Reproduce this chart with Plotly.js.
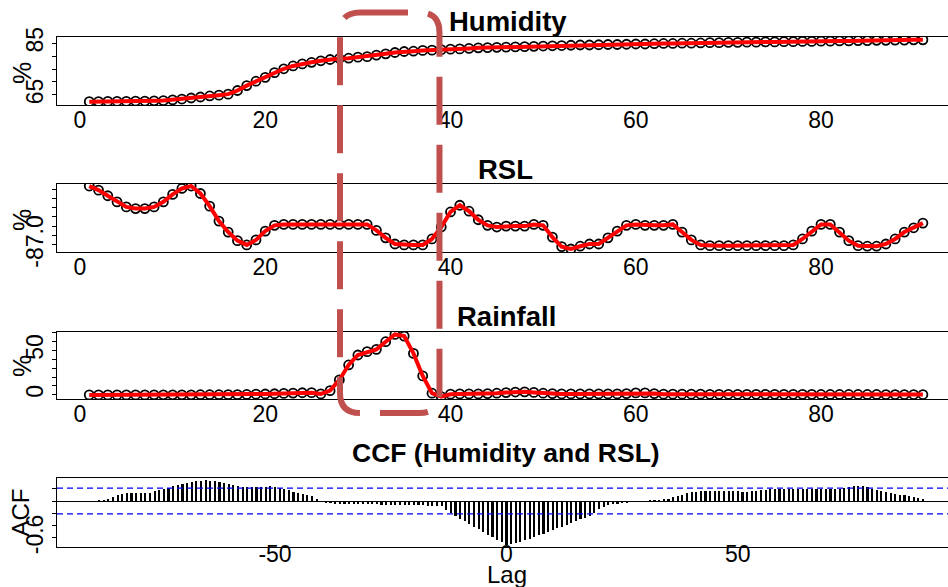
<!DOCTYPE html>
<html>
<head>
<meta charset="utf-8">
<script src="https://cdn.plot.ly/plotly-3.0.1.min.js"></script>
<style>html,body{margin:0;padding:0;background:#fff;overflow:hidden}#chart{width:948px;height:587px}</style>
</head>
<body>
<div id="chart"></div>
<script>
// ---------- data ----------
const humidity = [62.4,62.4,62.5,62.5,62.5,62.6,62.6,62.7,62.8,63.1,63.4,63.8,64.2,64.6,64.9,65.3,66.7,68.6,70.3,71.8,
73.6,75.1,76.2,77.0,77.6,78.2,78.7,79.1,79.2,79.6,79.8,80.4,80.9,81.4,81.8,81.9,82.2,82.3,82.5,82.7,
82.8,83.0,83.2,83.3,83.4,83.5,83.6,83.7,83.8,83.9,84.0,84.1,84.2,84.3,84.3,84.4,84.5,84.5,84.6,84.7,
84.7,84.8,84.9,84.9,85.0,85.0,85.1,85.2,85.2,85.3,85.3,85.4,85.4,85.5,85.5,85.6,85.6,85.7,85.7,85.8,
85.8,85.9,85.9,86.0,86.0,86.1,86.1,86.2,86.2,86.3,86.3];

const rsl = [-83.84,-84.06,-84.36,-84.69,-84.96,-85.05,-85.05,-84.96,-84.69,-84.29,-83.97,-83.84,-84.24,-84.92,-85.72,-86.31,-86.77,-87.00,-86.73,-86.26,
-85.95,-85.90,-85.90,-85.90,-85.90,-85.90,-85.90,-85.90,-85.90,-85.90,-85.90,-86.22,-86.62,-86.95,-87.00,-87.00,-87.00,-86.68,-86.04,-85.23,
-84.87,-85.19,-85.65,-85.95,-86.04,-85.99,-85.99,-85.99,-85.90,-85.95,-86.58,-87.09,-87.22,-87.07,-86.95,-86.95,-86.62,-86.26,-85.95,-85.90,
-85.95,-85.95,-85.95,-85.90,-86.31,-86.73,-87.00,-87.04,-87.04,-87.04,-87.04,-87.04,-87.04,-87.04,-87.04,-87.04,-87.00,-86.68,-86.26,-85.90,
-85.90,-86.31,-86.77,-87.04,-87.07,-87.07,-86.95,-86.68,-86.31,-86.08,-85.83];

const rainfall = [0.0,0.0,0.0,0.0,0.0,0.0,0.0,0.1,0.1,0.1,0.1,0.1,0.2,0.2,0.2,0.3,0.3,0.5,0.8,1.0,
1.3,1.7,2.0,2.4,2.5,1.1,4.8,16.8,33.6,44.8,48.5,51.1,59.7,67.9,66.0,46.6,21.3,1.9,-1.9,0.8,
1.1,1.1,1.1,1.5,1.9,2.6,3.2,3.4,2.8,1.9,1.5,1.1,1.1,1.1,1.1,1.1,1.1,1.1,1.5,2.2,
2.2,1.5,0.8,0.8,0.8,0.8,0.8,0.7,0.7,0.7,0.7,0.7,0.7,0.6,0.6,0.6,0.6,0.6,0.6,0.5,
0.5,0.5,0.5,0.5,0.5,0.5,0.4,0.4,0.4,0.4,0.4];

const ccfValues = [
0.005,0.008,0.012,0.020,0.035,0.065,0.090,0.110,0.125,0.130,   // lag -90 .. -81
0.130,0.130,0.130,0.136,0.157,0.173,0.200,0.217,0.244,0.266,   // -80 .. -71
0.282,0.298,0.309,0.320,0.331,0.336,0.331,0.325,0.309,0.293,   // -70 .. -61
0.282,0.266,0.244,0.233,0.233,0.233,0.233,0.233,0.233,0.238,   // -60 .. -51
0.228,0.211,0.200,0.173,0.146,0.130,0.114,0.103,0.076,0.038,   // -50 .. -41
-0.005,-0.030,-0.040,-0.045,-0.050,-0.050,-0.050,-0.050,-0.050,-0.055, // -40 .. -31
-0.055,-0.055,-0.055,-0.058,-0.060,-0.060,-0.062,-0.065,-0.065,-0.068, // -30 .. -21
-0.070,-0.070,-0.072,-0.075,-0.078,-0.080,-0.085,-0.140,-0.200,-0.245, // -20 .. -11
-0.290,-0.330,-0.375,-0.420,-0.460,-0.505,-0.550,-0.590,-0.635,-0.670, // -10 .. -1
-0.710,                                                           // 0
-0.705,-0.690,-0.665,-0.640,-0.610,-0.585,-0.555,-0.530,-0.500,-0.470, // 1 .. 10
-0.445,-0.415,-0.385,-0.355,-0.330,-0.300,-0.270,-0.240,-0.200,-0.130, // 11 .. 20
-0.090,-0.070,-0.055,-0.045,-0.035,-0.028,-0.020,-0.012,-0.005,0.005,  // 21 .. 30
0.012,0.018,0.022,0.028,0.040,0.060,0.080,0.100,0.125,0.140,   // 31 .. 40
0.150,0.155,0.160,0.160,0.160,0.160,0.160,0.155,0.155,0.155,   // 41 .. 50
0.150,0.150,0.155,0.165,0.175,0.185,0.190,0.190,0.188,0.190,   // 51 .. 60
0.190,0.192,0.190,0.188,0.190,0.190,0.192,0.190,0.190,0.192,   // 61 .. 70
0.192,0.195,0.205,0.225,0.240,0.245,0.240,0.225,0.200,0.180,   // 71 .. 80
0.160,0.145,0.130,0.120,0.105,0.090,0.075,0.060,0.045,0.030    // 81 .. 90
];

const timeTicks = [0,20,40,60,80];
const lagTicks = [-50,0,50];
const lagTickText = ['-50','0','50'];
const humTicks = [65,70,75,80,85];
const humTickText = ['65','','','','85'];
const rslTicks = [-87,-86.5,-86,-85.5,-85,-84.5,-84];
const rslTickText = ['-87.0','','','','','',''];
const rainTicks = [0,10,20,30,40,50,60,70];
const rainTickText = ['0','','','','','50','',''];
const ccfTicks = [-0.6,-0.4,-0.2,0,0.2];
const ccfTickText = ['-0.6','','','',''];
const ciLevel = 0.21;           // 2/sqrt(n) confidence band
const highlightStart = 28.07;   // highlighted rainfall event (time index)
const highlightEnd = 38.81;

const timeIdx = humidity.map((_, i) => i + 1);
const lags = ccfValues.map((_, i) => i - 90);

// ---------- traces ----------
const FONT = 'Liberation Sans, Arial, Helvetica, sans-serif';
function series(vals, xa, ya) {
  return [
    {type:'scatter', mode:'markers', x:timeIdx, y:vals, xaxis:xa, yaxis:ya,
     marker:{symbol:'circle-open', size:9, color:'#000', line:{width:1.8, color:'#000'}}, hoverinfo:'skip'},
    {type:'scatter', mode:'lines', x:timeIdx, y:vals, xaxis:xa, yaxis:ya,
     line:{color:'#ff0000', width:4}, hoverinfo:'skip'}
  ];
}
const data = [
  ...series(humidity, 'x', 'y'),
  ...series(rsl, 'x2', 'y2'),
  ...series(rainfall, 'x3', 'y3'),
  {type:'bar', x:lags, y:ccfValues, xaxis:'x4', yaxis:'y4', width:0.46,
   marker:{color:'#000', line:{width:0}}, hoverinfo:'skip'}
];

// ---------- layout ----------
const H = 587, W = 948;
const py = p => 1 - p / H;
const xd = [57 / W, 1];
function xaxisDef(range, ticks, text, anchor, standoff) {
  return {domain:xd, range:range, anchor:anchor, tickvals:ticks, ticktext:text, ticks:'',
    ticklabelstandoff:standoff,
    showline:true, mirror:true, linecolor:'#000', linewidth:1, showgrid:false, zeroline:false,
    tickfont:{family:FONT, size:23, color:'#000'}, fixedrange:true};
}
function yaxisDef(top, bottom, range, ticks, text, anchor, zl) {
  return {domain:[py(bottom), py(top)], range:range, anchor:anchor, tickvals:ticks, ticktext:text,
    tickangle:-90, ticks:'outside', ticklen:4, tickcolor:'#000', tickwidth:1,
    showline:true, linecolor:'#000', linewidth:1, showgrid:false,
    zeroline:!!zl, zerolinecolor:'#000', zerolinewidth:1,
    tickfont:{family:FONT, size:23, color:'#000'}, fixedrange:true};
}
const tRange = [-2.483, 93.71];
const layout = {
  width:W, height:H, margin:{l:0, r:0, t:0, b:0}, showlegend:false,
  paper_bgcolor:'#fff', plot_bgcolor:'#fff', bargap:0,
  xaxis: xaxisDef(tRange, timeTicks, timeTicks.map(String), 'y', -6),
  yaxis: yaxisDef(37, 105, [61.1, 87.4], humTicks, humTickText, 'x'),
  xaxis2: xaxisDef(tRange, timeTicks, timeTicks.map(String), 'y2', -6),
  yaxis2: yaxisDef(184, 252, [-87.38, -83.73], rslTicks, rslTickText, 'x2'),
  xaxis3: xaxisDef(tRange, timeTicks, timeTicks.map(String), 'y3', -6),
  yaxis3: yaxisDef(332, 399, [-4.6, 70.6], rainTicks, rainTickText, 'x3'),
  xaxis4: xaxisDef([-97.1, 95.4], lagTicks, lagTickText, 'y4', -14),
  yaxis4: yaxisDef(478, 547, [-0.748, 0.374], ccfTicks, ccfTickText, 'x4', true),
  shapes: [
    {type:'line', xref:'paper', x0:xd[0], x1:1, yref:'y4', y0:ciLevel, y1:ciLevel,
     line:{color:'#0000ff', width:1.2, dash:'6px,4px'}},
    {type:'line', xref:'paper', x0:xd[0], x1:1, yref:'y4', y0:-ciLevel, y1:-ciLevel,
     line:{color:'#0000ff', width:1.2, dash:'6px,4px'}}
  ],
  annotations: []
};

// highlight box (rounded, dashed) spanning the rainfall event
(function(){
  const x0 = highlightStart, x1 = highlightEnd;
  const y1 = py(12.5), y0 = py(413);
  const rx = 20 / 9.2625, ry = 20 / H;
  const path = `M ${x0+rx},${y1} L ${x1-rx},${y1} Q ${x1},${y1} ${x1},${y1-ry} L ${x1},${y0+ry} Q ${x1},${y0} ${x1-rx},${y0} ` +
               `L ${x0+rx},${y0} Q ${x0},${y0} ${x0},${y0+ry} L ${x0},${y1-ry} Q ${x0},${y1} ${x0+rx},${y1} Z`;
  layout.shapes.push({type:'path', xref:'x', yref:'paper', path:path,
    line:{color:'#c0504d', width:6, dash:'48px,20px'}, fillcolor:'rgba(0,0,0,0)', layer:'above'});
})();

function ann(text, xpx, ypx, size, angle, bold) {
  layout.annotations.push({text: bold ? '<b>' + text + '</b>' : text, xref:'paper', yref:'paper',
    x: xpx / W, y: py(ypx), xanchor:'center', yanchor:'middle', showarrow:false, textangle:angle || 0,
    font:{family:FONT, size:size, color:'#000'}});
}
ann('Humidity', 507.5, 21, 27.5, 0, true);
ann('RSL', 505.5, 169, 27.5, 0, true);
ann('Rainfall', 506, 316, 27.5, 0, true);
ann('CCF (Humidity and RSL)', 506, 453, 26.5, 0, true);
ann('%', 22, 73, 25, -90);
ann('%', 22, 220, 25, -90);
ann('%', 22, 366, 25, -90);
ann('ACF', 20, 512.5, 24, -90);
ann('Lag', 507, 574, 24, 0);

Plotly.newPlot('chart', data, layout, {staticPlot:true, displayModeBar:false});
</script>
</body>
</html>
